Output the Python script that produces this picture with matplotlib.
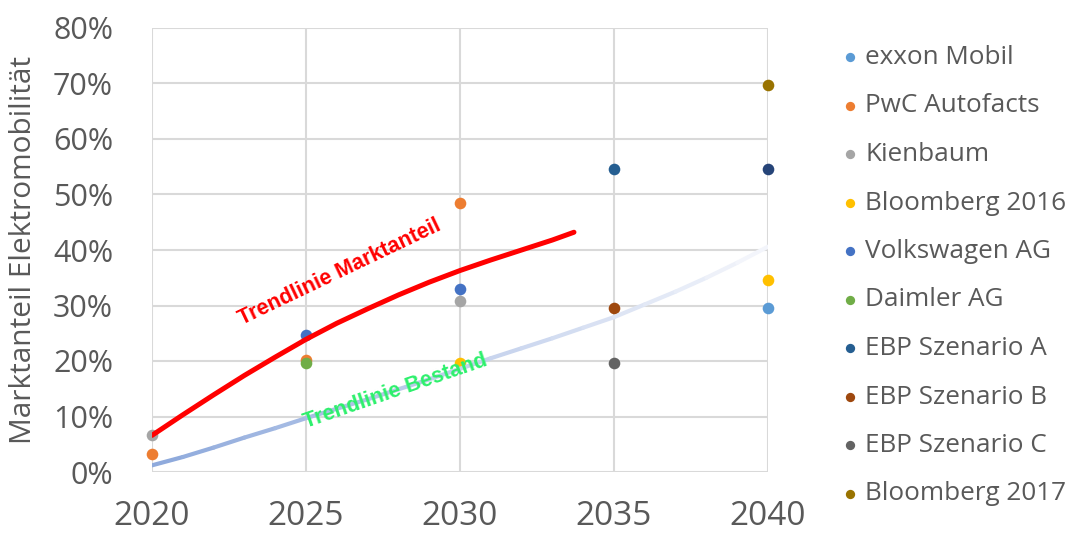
import numpy as np
import matplotlib
matplotlib.use("Agg")
import matplotlib.pyplot as plt
from matplotlib.collections import LineCollection
from matplotlib.colors import to_rgb
from matplotlib.ticker import PercentFormatter

plt.rcParams['font.family'] = ['Open Sans', 'DejaVu Sans']

# forecasts (year, share in %)
exxon_x, exxon_y = [2040], [29.5]
pwc_x, pwc_y = [2020, 2025, 2030], [3.2, 20.2, 48.4]
kienbaum_x, kienbaum_y = [2020, 2030], [6.7, 30.8]
bloom16_x, bloom16_y = [2030, 2040], [19.6, 34.6]
vw_x, vw_y = [2025, 2030], [24.6, 32.9]
daimler_x, daimler_y = [2025], [19.7]
ebp_a_x, ebp_a_y = [2035], [54.6]
ebp_b_x, ebp_b_y = [2035], [29.5]
ebp_c_x, ebp_c_y = [2035], [19.6]
bloom17_x, bloom17_y = [2040], [69.7]
extra_x, extra_y = [2040], [54.6]

# trend lines
markt_x = [2020, 2021, 2022, 2023, 2024, 2025, 2026, 2027, 2028, 2029, 2030,
           2031, 2032, 2033, 2033.7]
markt_y = [6.6, 10.3, 13.9, 17.4, 20.7, 23.9, 26.8, 29.4, 31.9, 34.2, 36.3,
           38.2, 40.0, 41.8, 43.2]
bestand_x = list(range(2020, 2041))
bestand_y = [1.2, 2.7, 4.4, 6.2, 7.9, 9.7, 11.4, 13.1, 14.9, 16.7, 18.6,
             20.5, 22.3, 24.1, 26.0, 27.9, 30.2, 32.5, 35.0, 37.7, 40.6]

series = [
    ("exxon Mobil", exxon_x, exxon_y, "#5B9BD5"),
    ("PwC Autofacts", pwc_x, pwc_y, "#ED7D31"),
    ("Kienbaum", kienbaum_x, kienbaum_y, "#A5A5A5"),
    ("Bloomberg 2016", bloom16_x, bloom16_y, "#FFC000"),
    ("Volkswagen AG", vw_x, vw_y, "#4472C4"),
    ("Daimler AG", daimler_x, daimler_y, "#70AD47"),
    ("EBP Szenario A", ebp_a_x, ebp_a_y, "#255E91"),
    ("EBP Szenario B", ebp_b_x, ebp_b_y, "#9E480E"),
    ("EBP Szenario C", ebp_c_x, ebp_c_y, "#636363"),
    ("Bloomberg 2017", bloom17_x, bloom17_y, "#997300"),
]

fig = plt.figure(figsize=(10.7, 5.36), dpi=100)
ax = fig.add_axes([152 / 1070, 64 / 536, 616 / 1070, 444 / 536])

handles = []
for name, xs, ys, c in series:
    h = ax.scatter(xs, ys, s=70, color=c, label=name, zorder=3, clip_on=False,
                   linewidths=0)
    handles.append(h)
ax.scatter(extra_x, extra_y, s=70, color="#264478", zorder=3, clip_on=False,
           linewidths=0)

# Bestand trend line, fading from blue to almost white
pts = np.column_stack([bestand_x, bestand_y])
segs = np.stack([pts[:-1], pts[1:]], axis=1)
c0 = np.array(to_rgb("#8FAADC"))
c1 = np.array(to_rgb("#F3F5FB"))
f = np.linspace(0, 1, len(segs))[:, None]
lc = LineCollection(segs, colors=c0 * (1 - f) + c1 * f, linewidths=3,
                    capstyle='round', zorder=4)
ax.add_collection(lc)

ax.plot(markt_x, markt_y, color="#FF0000", lw=3.6, zorder=5,
        solid_capstyle='round')

ax.text(2026.1, 36.0, "Trendlinie Marktanteil", color="#FF0000",
        fontsize=15.5, fontweight='bold', family='Liberation Sans',
        rotation=25.5, ha='center', va='center', rotation_mode='anchor', zorder=6)
ax.text(2027.9, 14.6, "Trendlinie Bestand", color="#2DF06C",
        fontsize=15.5, fontweight='bold', family='Liberation Sans',
        rotation=19, ha='center', va='center', rotation_mode='anchor', zorder=6)

ax.set_xlim(2020, 2040)
ax.set_ylim(0, 80)
ax.set_xticks([2020, 2025, 2030, 2035, 2040])
ax.set_yticks(np.arange(0, 81, 10))
ax.yaxis.set_major_formatter(PercentFormatter(decimals=0))
ax.grid(True, color="#D9D9D9", lw=1.5)
ax.set_axisbelow(True)
for s in ax.spines.values():
    s.set_visible(False)
ax.tick_params(axis='both', length=0, colors="#595959")
ax.tick_params(axis='x', labelsize=24, pad=20)
ax.tick_params(axis='y', labelsize=22, pad=28)

fig.text(24 / 1070, 1 - 250 / 536, "Marktanteil Elektromobilität", rotation=90,
         ha='center', va='center', fontsize=21.5, color="#595959")

fig.legend(handles=handles, loc='upper left', bbox_to_anchor=(838 / 1070, 1 - 45 / 536),
           frameon=False, fontsize=18.8, labelcolor="#595959", markerscale=0.8,
           handletextpad=0.15, handlelength=0.9, labelspacing=0.9,
           borderpad=0, borderaxespad=0)

fig.savefig("out.png", dpi=100)
